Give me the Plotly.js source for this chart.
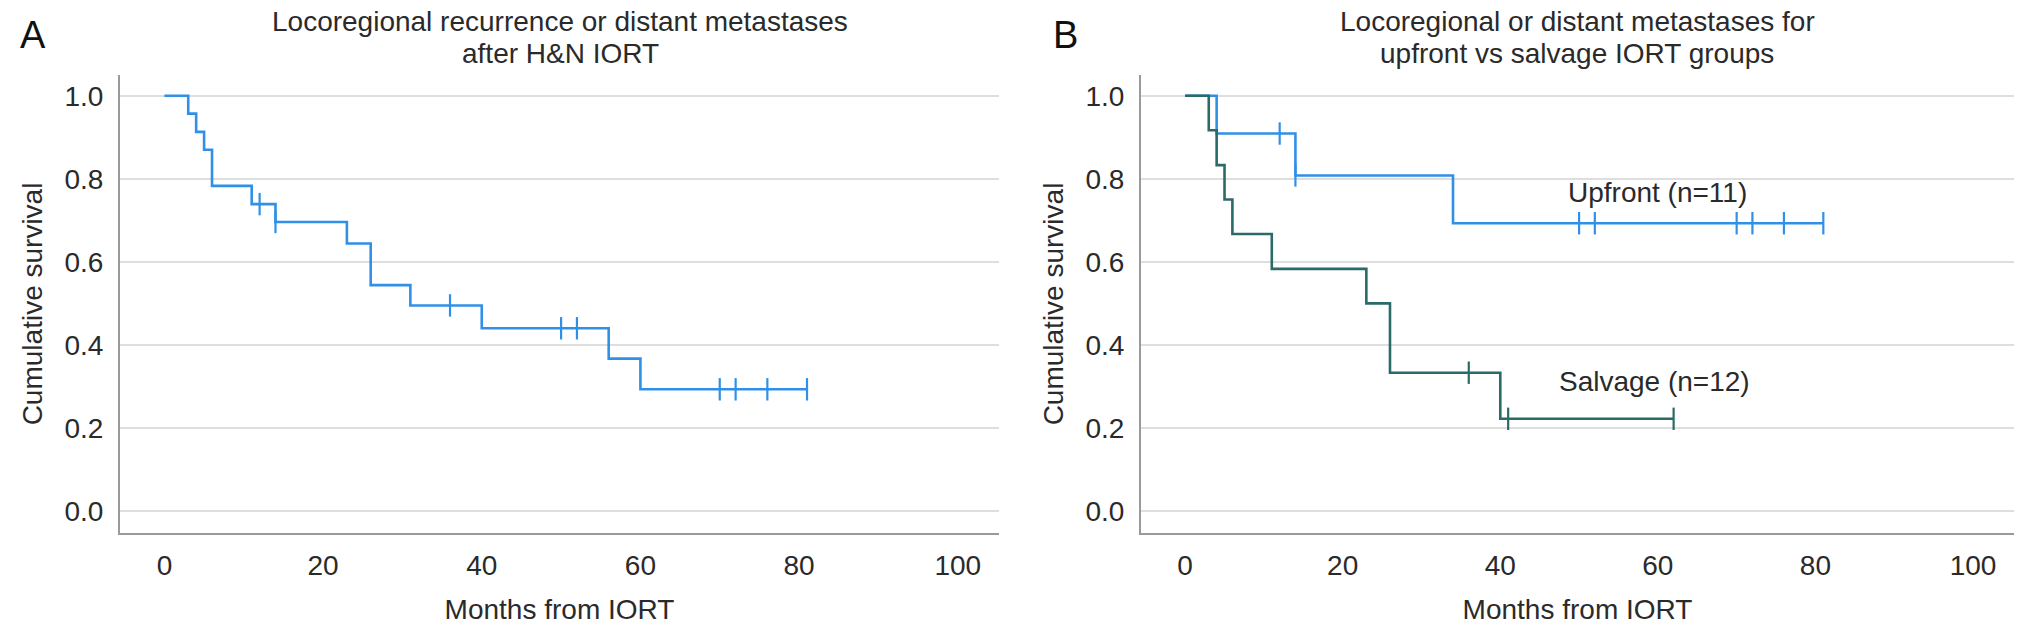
<!DOCTYPE html>
<html>
<head>
<meta charset="utf-8">
<script src="https://cdn.plot.ly/plotly-3.0.1.min.js"></script>
<style>
  html, body { margin: 0; padding: 0; background: #ffffff; }
  #chart { width: 2032px; height: 628px; }
</style>
</head>
<body>
<div id="chart"></div>
<script>
// ---------- Panel A: all patients ----------
const timesA = [0, 3, 4, 5, 6, 11, 14, 23, 26, 31, 40, 56, 60, 81];
const survA = [1.000, 0.957, 0.913, 0.870, 0.783, 0.739, 0.696, 0.644, 0.544, 0.495, 0.440, 0.367, 0.293, 0.293];
const censorTimesA = [12, 14, 36, 50, 52, 70, 72, 76, 81];
const censorSurvA = [0.739, 0.696, 0.495, 0.440, 0.440, 0.293, 0.293, 0.293, 0.293];

// ---------- Panel B: upfront vs salvage ----------
const timesUpfront = [0, 4, 14, 34, 81];
const survUpfront = [1.000, 0.909, 0.808, 0.693, 0.693];
const censorTimesUpfront = [12, 14, 50, 52, 70, 72, 76, 81];
const censorSurvUpfront = [0.909, 0.808, 0.693, 0.693, 0.693, 0.693, 0.693, 0.693];

const timesSalvage = [0, 3, 4, 5, 6, 11, 23, 26, 40, 62];
const survSalvage = [1.000, 0.917, 0.833, 0.750, 0.667, 0.583, 0.500, 0.333, 0.222, 0.222];
const censorTimesSalvage = [36, 41, 62];
const censorSurvSalvage = [0.333, 0.222, 0.222];

const xTickVals = [0, 20, 40, 60, 80, 100];
const yTickVals = [0.0, 0.2, 0.4, 0.6, 0.8, 1.0];
const yTickText = ['0.0', '0.2', '0.4', '0.6', '0.8', '1.0'];

const titleA = ['Locoregional recurrence or distant metastases', 'after H&N IORT'];
const titleB = ['Locoregional or distant metastases for', 'upfront vs salvage IORT groups'];
const groupLabels = ['Upfront (n=11)', 'Salvage (n=12)'];

const BLUE = '#3090e8';
const TEAL = '#2a6b68';
const TXT = '#2a2a2a';
const FONT = '"Liberation Sans", Arial, Helvetica, sans-serif';

function stepTrace(x, y, color, xa, ya) {
  return { x: x, y: y, type: 'scatter', mode: 'lines', line: { shape: 'hv', color: color, width: 2.6 },
           xaxis: xa, yaxis: ya, hoverinfo: 'skip', showlegend: false };
}
function censorTrace(x, y, color, xa, ya) {
  return { x: x, y: y, type: 'scatter', mode: 'markers',
           marker: { symbol: 'line-ns', size: 16, color: color, line: { color: color, width: 2.2 } },
           xaxis: xa, yaxis: ya, hoverinfo: 'skip', showlegend: false };
}

const data = [
  stepTrace(timesA, survA, BLUE, 'x', 'y'),
  censorTrace(censorTimesA, censorSurvA, BLUE, 'x', 'y'),
  stepTrace(timesUpfront, survUpfront, BLUE, 'x2', 'y2'),
  censorTrace(censorTimesUpfront, censorSurvUpfront, BLUE, 'x2', 'y2'),
  stepTrace(timesSalvage, survSalvage, TEAL, 'x2', 'y2'),
  censorTrace(censorTimesSalvage, censorSurvSalvage, TEAL, 'x2', 'y2')
];

const tickFont = { family: FONT, size: 28, color: TXT };
const titleFont = { family: FONT, size: 28, color: TXT };

function xAxis(domain, anchor) {
  return {
    domain: domain, anchor: anchor, range: [-5.6, 105.2],
    tickvals: xTickVals, ticks: '', showgrid: false, zeroline: false,
    showline: true, linecolor: '#9a9a9a', linewidth: 2,
    tickfont: tickFont, ticklabelstandoff: 6,
    title: { text: 'Months from IORT', font: titleFont, standoff: 20 },
    fixedrange: true
  };
}
function yAxis(anchor) {
  return {
    domain: [0.1513, 0.8806], anchor: anchor, range: [-0.053, 1.05],
    tickvals: yTickVals, ticktext: yTickText, ticks: '',
    showgrid: true, gridcolor: '#dedede', gridwidth: 1.6, zeroline: false,
    showline: true, linecolor: '#9a9a9a', linewidth: 2,
    tickfont: tickFont, ticklabelstandoff: 9,
    title: { text: 'Cumulative survival', font: titleFont, standoff: 14 },
    fixedrange: true
  };
}

const annotations = [
  { text: 'A', x: 33 / 2032, y: 1 - 35 / 628, xref: 'paper', yref: 'paper', showarrow: false,
    font: { family: FONT, size: 38, color: '#111' }, xanchor: 'center', yanchor: 'middle' },
  { text: 'B', x: 1065 / 2032, y: 1 - 35 / 628, xref: 'paper', yref: 'paper', showarrow: false,
    font: { family: FONT, size: 38, color: '#111' }, xanchor: 'center', yanchor: 'middle' },
  { text: titleA[0], x: 560 / 2032, y: 1 - 22 / 628, xref: 'paper', yref: 'paper', showarrow: false,
    font: titleFont, xanchor: 'center', yanchor: 'middle' },
  { text: titleA[1].replace('&', '&amp;'), x: 560 / 2032, y: 1 - 54 / 628, xref: 'paper', yref: 'paper', showarrow: false,
    font: titleFont, xanchor: 'center', yanchor: 'middle' },
  { text: titleB[0], x: 1577 / 2032, y: 1 - 22 / 628, xref: 'paper', yref: 'paper', showarrow: false,
    font: titleFont, xanchor: 'center', yanchor: 'middle' },
  { text: titleB[1], x: 1577 / 2032, y: 1 - 54 / 628, xref: 'paper', yref: 'paper', showarrow: false,
    font: titleFont, xanchor: 'center', yanchor: 'middle' },
  { text: groupLabels[0], x: 60, y: 0.766, xref: 'x2', yref: 'y2', showarrow: false,
    font: titleFont, xanchor: 'center', yanchor: 'middle' },
  { text: groupLabels[1], x: 59.6, y: 0.311, xref: 'x2', yref: 'y2', showarrow: false,
    font: titleFont, xanchor: 'center', yanchor: 'middle' }
];

const layout = {
  width: 2032, height: 628,
  margin: { l: 0, r: 0, t: 0, b: 0 },
  paper_bgcolor: '#ffffff', plot_bgcolor: '#ffffff',
  showlegend: false,
  xaxis: xAxis([120 / 2032, 999 / 2032], 'y'),
  yaxis: yAxis('x'),
  xaxis2: xAxis([1141 / 2032, 2014 / 2032], 'y2'),
  yaxis2: yAxis('x2'),
  annotations: annotations
};

Plotly.newPlot('chart', data, layout, { staticPlot: true, displayModeBar: false });
</script>
</body>
</html>
